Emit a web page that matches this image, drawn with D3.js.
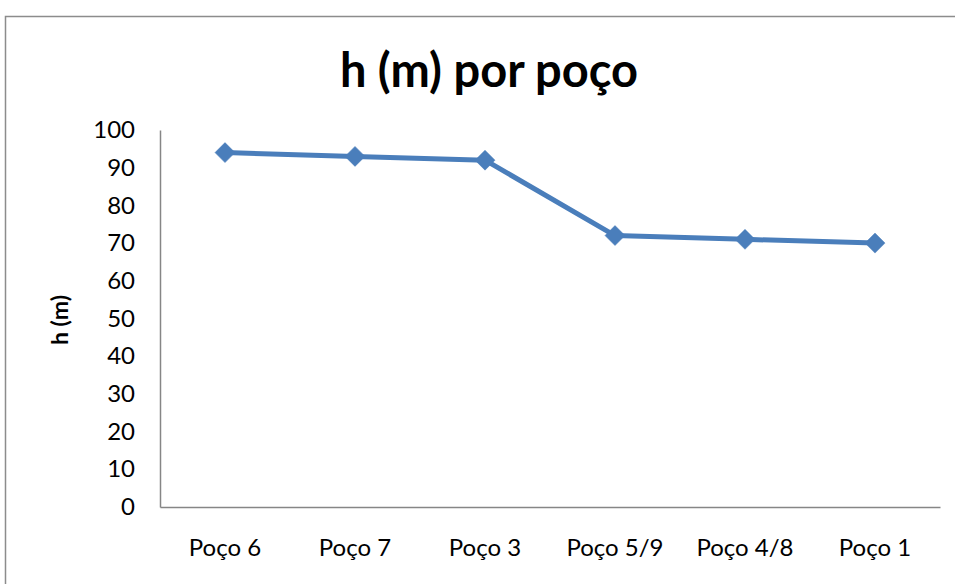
<!DOCTYPE html>
<html>
<head>
<meta charset="utf-8">
<script src="https://cdn.jsdelivr.net/npm/d3@7/dist/d3.min.js"></script>
<style>
  html, body { margin: 0; padding: 0; background: #fff; }
  svg { display: block; }
  text { font-family: Lato, "Open Sans", sans-serif; fill: #000; }
</style>
</head>
<body>
<svg id="chart" width="955" height="584"></svg>
<script>
// Well names and hydraulic head (m) per well
const categories = ["Poço 6", "Poço 7", "Poço 3", "Poço 5/9", "Poço 4/8", "Poço 1"];
const headValues = [94, 93, 92, 72, 71, 70];
const yTicks = [0, 10, 20, 30, 40, 50, 60, 70, 80, 90, 100];

const svg = d3.select("#chart");

// chart frame
svg.append("rect")
  .attr("x", 5.5).attr("y", 16.5)
  .attr("width", 1000).attr("height", 1000)
  .attr("fill", "#fff")
  .attr("stroke", "#8c8c8c")
  .attr("stroke-width", 1.5);

const plot = { left: 160, right: 940, top: 130, bottom: 507 };

const x = d3.scaleBand()
  .domain(categories)
  .range([plot.left, plot.right]);

const y = d3.scaleLinear()
  .domain([0, 100])
  .range([plot.bottom, plot.top]);

// title
svg.append("text")
  .attr("x", 489).attr("y", 87)
  .attr("text-anchor", "middle")
  .style("font-size", "47px")
  .style("font-weight", "bold")
  .text("h (m) por poço");

// y axis title
svg.append("text")
  .attr("transform", `translate(68,320) rotate(-90)`)
  .attr("text-anchor", "middle")
  .style("font-size", "23px")
  .style("font-weight", "bold")
  .text("h (m)");

// y axis
const yAxis = svg.append("g")
  .attr("transform", `translate(${plot.left},0)`)
  .call(d3.axisLeft(y).tickValues(yTicks).tickSize(0).tickPadding(25));
yAxis.select(".domain").attr("stroke", "#868686").attr("stroke-width", 1.5);
yAxis.selectAll("text").style("font-size", "24px").attr("fill", "#000");

// x axis
const xAxis = svg.append("g")
  .attr("transform", `translate(0,${plot.bottom})`)
  .call(d3.axisBottom(x).tickSize(0).tickPadding(32));
xAxis.select(".domain").attr("stroke", "#868686").attr("stroke-width", 1.5);
xAxis.selectAll("text").style("font-size", "24px").attr("fill", "#000");

// series line
const cx = d => x(d.cat) + x.bandwidth() / 2;
const data = categories.map((c, i) => ({ cat: c, v: headValues[i] }));

svg.append("path")
  .datum(data)
  .attr("fill", "none")
  .attr("stroke", "#4a7ebb")
  .attr("stroke-width", 5)
  .attr("stroke-linejoin", "round")
  .attr("d", d3.line().x(cx).y(d => y(d.v)));

// diamond markers
svg.append("g").selectAll("path")
  .data(data)
  .join("path")
  .attr("transform", d => `translate(${cx(d)},${y(d.v)})`)
  .attr("d", "M0,-10 L10,0 L0,10 L-10,0 Z")
  .attr("fill", "#4a7ebb")
  .attr("stroke", "#4a7ebb")
  .attr("stroke-width", 0.5);
</script>
</body>
</html>
